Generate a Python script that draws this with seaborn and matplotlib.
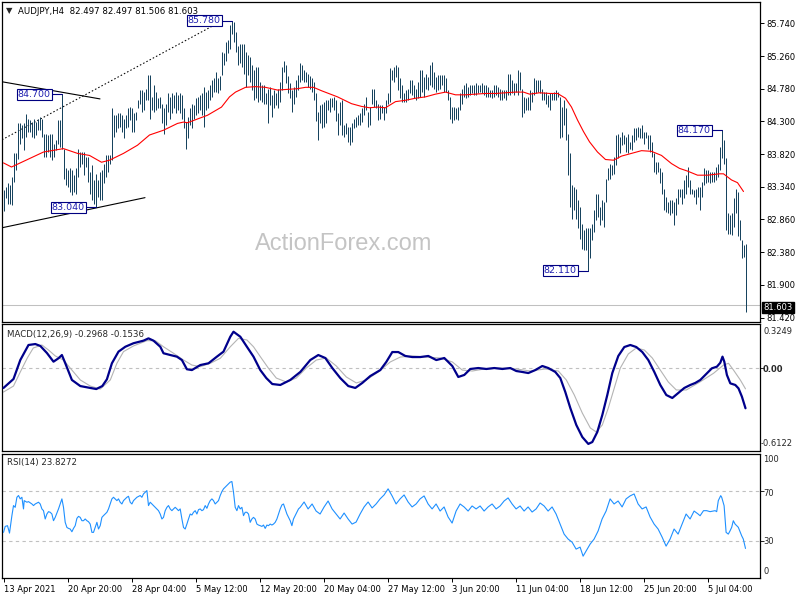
import matplotlib
matplotlib.use("Agg")
import matplotlib.pyplot as plt
import pandas as pd
import seaborn as sns

# ---------------- data ----------------
highs = [83.29, 83.34, 83.39, 83.36, 83.49, 83.83, 83.83, 84.27, 84.27, 84.24,
         84.27, 84.41, 84.34, 84.32, 84.29, 84.34, 84.29, 84.34, 84.37, 84.34,
         84.12, 84.12, 84.10, 84.12, 84.12, 83.97, 84.02, 84.32, 84.32, 84.70,
         83.90, 83.61, 83.58, 83.61, 83.58, 83.51, 83.61, 83.90, 83.85, 83.85,
         83.85, 83.78, 83.78, 83.56, 83.66, 83.44, 83.53, 83.44, 83.56, 83.58,
         83.68, 83.80, 83.80, 83.80, 84.49, 84.39, 84.39, 84.42, 84.42, 84.39,
         84.34, 84.39, 84.49, 84.51, 84.49, 84.42, 84.44, 84.61, 84.76, 84.76,
         84.73, 84.78, 84.98, 84.98, 84.66, 84.83, 84.73, 84.64, 84.66, 84.56,
         84.49, 84.56, 84.71, 84.66, 84.71, 84.69, 84.73, 84.69, 84.71, 84.69,
         84.49, 84.29, 84.37, 84.49, 84.56, 84.54, 84.64, 84.66, 84.69, 84.71,
         84.81, 84.73, 84.76, 84.83, 84.91, 84.93, 85.03, 84.93, 84.96, 85.32,
         85.30, 85.47, 85.49, 85.71, 85.78, 85.76, 85.61, 85.40, 85.44, 85.44,
         85.44, 85.32, 85.27, 85.25, 85.13, 85.05, 85.10, 85.10, 84.88, 84.83,
         84.83, 84.71, 84.78, 84.81, 84.69, 84.76, 84.71, 84.78, 84.88, 85.10,
         85.18, 85.13, 84.96, 84.86, 84.76, 84.81, 84.91, 84.98, 85.15, 85.13,
         85.05, 85.03, 85.00, 84.96, 84.93, 84.88, 84.71, 84.44, 84.54, 84.56,
         84.59, 84.61, 84.61, 84.64, 84.64, 84.66, 84.61, 84.42, 84.59, 84.61,
         84.24, 84.27, 84.22, 84.22, 84.27, 84.34, 84.37, 84.39, 84.42, 84.49,
         84.56, 84.66, 84.44, 84.51, 84.78, 84.78, 84.61, 84.56, 84.54, 84.54,
         84.51, 84.61, 84.71, 85.08, 85.05, 85.10, 85.13, 85.10, 84.93, 84.83,
         84.71, 84.76, 84.78, 84.91, 84.91, 84.83, 84.78, 84.88, 85.05, 85.05,
         84.95, 85.00, 84.95, 85.13, 85.17, 85.03, 84.95, 84.98, 84.98, 84.98,
         84.98, 84.93, 84.76, 84.66, 84.51, 84.51, 84.49, 84.51, 84.71, 84.78,
         84.83, 84.86, 84.81, 84.83, 84.83, 84.83, 84.86, 84.83, 84.83, 84.86,
         84.83, 84.83, 84.81, 84.76, 84.76, 84.83, 84.83, 84.81, 84.78, 84.76,
         84.76, 84.76, 85.00, 85.00, 84.91, 84.86, 84.86, 85.05, 85.03, 84.78,
         84.66, 84.64, 84.66, 84.76, 84.73, 84.93, 84.91, 84.91, 84.91, 84.78,
         84.73, 84.73, 84.69, 84.71, 84.71, 84.73, 84.76, 84.73, 84.66, 84.51,
         84.61, 84.49, 84.12, 83.83, 83.36, 83.34, 83.31, 83.14, 83.05, 82.80,
         82.70, 82.73, 82.73, 82.73, 82.80, 83.00, 83.24, 83.24, 83.05, 83.14,
         83.12, 83.46, 83.61, 83.68, 83.66, 83.78, 84.10, 84.12, 84.07, 84.15,
         84.10, 84.07, 84.12, 84.00, 84.10, 84.20, 84.20, 84.22, 84.20, 84.24,
         84.15, 84.15, 84.10, 84.10, 84.00, 83.83, 83.71, 83.71, 83.61, 83.56,
         83.31, 83.19, 83.12, 83.14, 83.14, 83.12, 83.17, 83.31, 83.31, 83.31,
         83.44, 83.51, 83.63, 83.44, 83.31, 83.29, 83.31, 83.34, 83.34, 83.41,
         83.61, 83.58, 83.58, 83.56, 83.56, 83.56, 83.63, 83.68, 83.93, 84.17,
         84.02, 83.76, 82.95, 82.92, 82.95, 83.17, 83.31, 83.27, 82.85, 82.56,
         82.48, 82.497]

lows = [82.99, 83.17, 83.09, 83.09, 83.07, 83.41, 83.58, 83.75, 83.97, 84.05,
        83.88, 84.07, 84.15, 84.15, 84.07, 84.05, 84.10, 84.17, 84.17, 84.07,
        83.78, 83.78, 83.85, 83.78, 83.73, 83.78, 83.88, 83.97, 83.93, 83.90,
        83.46, 83.36, 83.34, 83.27, 83.22, 83.27, 83.24, 83.49, 83.63, 83.68,
        83.51, 83.63, 83.41, 83.24, 83.14, 83.09, 83.04, 83.19, 83.14, 83.14,
        83.39, 83.49, 83.56, 83.68, 83.73, 84.07, 84.15, 84.20, 84.22, 84.15,
        84.05, 84.20, 84.22, 84.32, 84.15, 84.15, 84.32, 84.49, 84.56, 84.44,
        84.46, 84.61, 84.61, 84.34, 84.46, 84.44, 84.46, 84.49, 84.49, 84.27,
        84.12, 84.24, 84.44, 84.34, 84.42, 84.49, 84.42, 84.46, 84.42, 84.34,
        84.20, 83.90, 84.05, 84.24, 84.20, 84.34, 84.39, 84.42, 84.46, 84.39,
        84.22, 84.46, 84.49, 84.61, 84.66, 84.73, 84.73, 84.71, 84.76, 84.98,
        85.13, 85.18, 85.30, 85.37, 85.59, 85.47, 85.32, 85.13, 85.15, 85.10,
        85.00, 84.81, 84.98, 84.88, 84.76, 84.61, 84.64, 84.59, 84.61, 84.59,
        84.56, 84.56, 84.27, 84.54, 84.37, 84.49, 84.54, 84.49, 84.59, 84.76,
        85.03, 84.86, 84.71, 84.64, 84.44, 84.56, 84.66, 84.76, 84.88, 84.91,
        84.88, 84.88, 84.81, 84.78, 84.73, 84.61, 84.30, 84.03, 84.27, 84.20,
        84.22, 84.27, 84.46, 84.44, 84.51, 84.46, 84.30, 84.10, 84.24, 84.10,
        84.07, 84.12, 84.00, 83.95, 84.00, 84.20, 84.22, 84.24, 84.24, 84.29,
        84.39, 84.46, 84.22, 84.24, 84.56, 84.51, 84.49, 84.32, 84.34, 84.42,
        84.32, 84.42, 84.56, 84.59, 84.91, 84.88, 84.95, 84.76, 84.64, 84.59,
        84.59, 84.59, 84.61, 84.71, 84.69, 84.64, 84.61, 84.64, 84.66, 84.73,
        84.66, 84.78, 84.76, 84.83, 84.81, 84.78, 84.73, 84.76, 84.78, 84.83,
        84.73, 84.73, 84.61, 84.34, 84.27, 84.32, 84.34, 84.32, 84.46, 84.56,
        84.66, 84.64, 84.66, 84.69, 84.71, 84.69, 84.69, 84.71, 84.73, 84.71,
        84.69, 84.66, 84.66, 84.66, 84.64, 84.66, 84.69, 84.66, 84.61, 84.61,
        84.64, 84.61, 84.69, 84.69, 84.71, 84.69, 84.73, 84.69, 84.76, 84.37,
        84.42, 84.46, 84.46, 84.46, 84.59, 84.69, 84.71, 84.73, 84.71, 84.61,
        84.61, 84.56, 84.51, 84.46, 84.61, 84.61, 84.61, 84.66, 84.05, 84.07,
        84.24, 84.02, 83.51, 83.05, 82.87, 83.00, 82.87, 82.73, 82.58, 82.43,
        82.41, 82.41, 82.11, 82.29, 82.56, 82.68, 82.85, 82.90, 82.78, 82.85,
        82.75, 83.12, 83.44, 83.46, 83.51, 83.53, 83.66, 83.76, 83.83, 83.95,
        83.97, 83.85, 83.83, 83.90, 83.88, 84.00, 84.02, 84.07, 84.05, 84.05,
        83.97, 84.05, 83.90, 83.85, 83.78, 83.56, 83.53, 83.56, 83.39, 83.24,
        83.00, 82.97, 82.95, 82.92, 82.95, 82.78, 82.92, 83.09, 83.19, 83.09,
        83.17, 83.24, 83.34, 83.24, 83.24, 83.19, 83.09, 83.19, 83.00, 83.19,
        83.36, 83.39, 83.41, 83.39, 83.41, 83.41, 83.44, 83.49, 83.58, 83.76,
        83.68, 82.70, 82.65, 82.65, 82.63, 82.75, 82.95, 82.61, 82.56, 82.29,
        82.31, 81.506]

ma_idx = [0, 4, 20, 30, 37, 43, 49, 53, 60, 67, 73, 80, 87, 90, 92, 102, 109,
          113, 116, 121, 126, 131, 137, 142, 147, 151, 155, 159, 167, 174, 179,
          183, 187, 191, 196, 201, 206, 211, 216, 221, 226, 231, 236, 241, 246,
          251, 256, 260, 263, 268, 273, 277, 281, 284, 287, 290, 293, 297, 301,
          305, 309, 314, 319, 324, 329, 334, 338, 342, 347, 352, 358, 360, 364,
          367, 370]
ma_val = [83.69, 83.63, 83.85, 83.90, 83.83, 83.80, 83.70, 83.73, 83.83, 83.95,
          84.10, 84.17, 84.27, 84.29, 84.28, 84.39, 84.51, 84.66, 84.73, 84.80,
          84.81, 84.80, 84.76, 84.77, 84.78, 84.80, 84.80, 84.75, 84.66, 84.56,
          84.52, 84.50, 84.51, 84.50, 84.59, 84.61, 84.64, 84.66, 84.70, 84.73,
          84.69, 84.69, 84.70, 84.71, 84.71, 84.72, 84.73, 84.73, 84.70, 84.72,
          84.71, 84.71, 84.64, 84.51, 84.32, 84.15, 84.00, 83.85, 83.74, 83.73,
          83.79, 83.83, 83.87, 83.86, 83.80, 83.68, 83.61, 83.57, 83.51, 83.51,
          83.53, 83.53, 83.44, 83.40, 83.27]

macd_idx = [0, 5, 8.4, 12.5, 15.9, 18.4, 21.7, 25, 27.5, 29.2, 30.9, 34.2, 38.4,
            43.4, 46.4, 49.4, 51.7, 54.2, 57.5, 60.9, 65, 70, 72.5, 75, 78.4, 80,
            83.4, 86.7, 89.2, 91.7, 94.2, 98.4, 102.5, 106.7, 110, 113.4, 115,
            118.4, 121.7, 125, 128.4, 131.4, 134.4, 138.4, 143.4, 148.4, 153.4,
            157.4, 160.9, 164.4, 168.4, 172.4, 175.9, 179.4, 183.4, 188.4, 191.4,
            194.4, 197.4, 200.9, 204.4, 208.4, 212.4, 216.4, 220.4, 224.4, 227.4,
            230.4, 233.4, 237.4, 241.4, 245.4, 249.4, 253.4, 256.4, 259.4, 262.4,
            265.9, 269.4, 272.4, 275.9, 278.4, 280.9, 283.4, 286.4, 289.4, 292.4,
            294.4, 296.9, 299.4, 301.9, 304.4, 307.4, 310.4, 313.4, 316.4, 319.4,
            322.4, 325.4, 328.4, 331.4, 334.4, 337.4, 340.4, 343.4, 345.9, 348.4,
            351.7, 354.2, 356.7, 358.4, 359.5, 360.4, 361.7, 363.4, 365.9, 367.5,
            369.2, 371]
macd_val = [-0.147, -0.081, 0.059, 0.170, 0.177, 0.163, 0.111, 0.047, 0.072,
            0.096, 0.035, -0.088, -0.133, -0.147, -0.155, -0.133, -0.083, 0.035,
            0.121, 0.157, 0.183, 0.202, 0.219, 0.202, 0.157, 0.109, 0.096, 0.084,
            0.059, -0.009, -0.015, 0.022, 0.035, 0.084, 0.121, 0.231, 0.268,
            0.231, 0.157, 0.084, -0.015, -0.074, -0.118, -0.125, -0.088, -0.029,
            0.059, 0.096, 0.074, 0.000, -0.074, -0.133, -0.147, -0.110, -0.059,
            -0.015, 0.045, 0.118, 0.118, 0.089, 0.081, 0.081, 0.089, 0.059, 0.074,
            0.015, -0.066, -0.051, -0.007, 0.000, -0.007, 0.000, -0.007, 0.000,
            -0.022, -0.029, -0.037, -0.015, 0.015, 0.000, -0.029, -0.074, -0.177,
            -0.295, -0.420, -0.509, -0.560, -0.546, -0.472, -0.347, -0.199,
            -0.037, 0.089, 0.155, 0.170, 0.155, 0.118, 0.059, -0.029, -0.125,
            -0.199, -0.221, -0.184, -0.147, -0.125, -0.110, -0.088, -0.039,
            -0.002, 0.010, 0.039, 0.084, 0.047, -0.051, -0.113, -0.125, -0.150,
            -0.211, -0.2968]

signal_idx = [0, 5, 8.4, 11.9, 14.9, 19.2, 22.5, 25.9, 30, 34.2, 38.4, 43.4,
              48.4, 53.4, 56.7, 60, 65, 71.7, 75.9, 80, 85, 90, 94.2, 98.4, 103.4,
              108.4, 113.4, 117.5, 121.7, 125, 128.4, 132.4, 136.4, 141.4, 146.4,
              151.4, 156.4, 161.4, 166.4, 171.4, 176.4, 181.4, 187.4, 193.4, 198.4,
              204.4, 211.4, 218.4, 224.4, 229.4, 234.4, 240.4, 248.4, 256.4, 263.4,
              270.9, 277.4, 281.4, 285.4, 289.4, 293.4, 296.4, 299.4, 302.4, 305.4,
              308.4, 312.4, 316.4, 320.4, 324.4, 328.4, 332.4, 336.4, 341.4, 348.4,
              355, 360, 362.5, 365, 368.4, 371]
signal_val = [-0.177, -0.133, -0.029, 0.074, 0.148, 0.170, 0.133, 0.089, 0.059,
              -0.015, -0.088, -0.133, -0.155, -0.088, 0.035, 0.121, 0.163, 0.202,
              0.202, 0.157, 0.109, 0.059, 0.022, 0.010, 0.035, 0.072, 0.157, 0.219,
              0.207, 0.157, 0.084, 0.000, -0.074, -0.103, -0.074, 0.000, 0.059,
              0.074, 0.015, -0.066, -0.110, -0.088, -0.029, 0.045, 0.081, 0.089,
              0.081, 0.074, 0.045, -0.015, -0.022, -0.007, 0.000, -0.007, -0.022,
              -0.007, -0.022, -0.088, -0.199, -0.332, -0.442, -0.472, -0.420,
              -0.295, -0.147, 0.000, 0.104, 0.148, 0.133, 0.074, -0.015, -0.103,
              -0.162, -0.162, -0.101, -0.039, 0.022, 0.035, -0.015, -0.088, -0.1536]

rsi_idx = [0.0, 0.85, 2.0, 3.0, 4.2, 5.0, 5.85, 6.7, 7.5, 8.35, 9.2, 10.0, 10.35,
           11.7, 12.5, 14.2, 15.0, 15.85, 17.5, 18.35, 19.2, 20.0, 20.85, 21.7,
           22.5, 23.35, 24.2, 25.0, 25.85, 27.5, 28.35, 29.2, 30.0, 30.85, 31.7,
           32.5, 33.35, 34.2, 35.0, 35.85, 36.7, 37.5, 38.35, 39.2, 40.0, 40.85,
           41.7, 42.5, 43.35, 44.2, 45.0, 45.85, 46.7, 47.5, 48.35, 49.2, 50.0,
           51.7, 52.5, 53.35, 54.2, 55.0, 55.85, 56.7, 57.5, 58.35, 59.2, 60.0,
           60.85, 61.7, 62.5, 63.35, 64.2, 65.0, 66.7, 68.35, 69.2, 70.0, 70.85,
           71.7, 72.5, 73.35, 74.2, 75.0, 75.85, 76.7, 77.5, 78.35, 79.2, 80.0,
           80.85, 81.7, 82.5, 83.35, 84.2, 85.0, 85.85, 86.7, 87.5, 88.35, 89.2,
           90.0, 90.85, 91.7, 92.5, 93.35, 94.2, 95.0, 95.85, 96.7, 97.5, 98.35,
           99.2, 100.0, 100.85, 101.7, 102.5, 103.35, 104.2, 105.0, 105.85, 106.7,
           107.5, 108.35, 109.2, 110.0, 111.7, 113.35, 114.2, 115.0, 115.85, 116.7,
           117.5, 118.35, 119.2, 120.0, 120.85, 121.7, 122.5, 123.35, 124.2, 125.0,
           125.85, 126.7, 127.5, 128.35, 129.2, 130.0, 130.85, 131.7, 132.5,
           133.35, 134.2, 135.0, 135.85, 136.7, 137.5, 138.35, 139.2, 140.0,
           140.85, 141.7, 142.5, 143.35, 144.2, 145.0, 145.85, 146.7, 147.5,
           148.35, 150.3, 152.3, 154.3, 156.3, 158.3, 160.3, 162.3, 164.3, 166.3,
           168.3, 170.3, 172.3, 174.3, 176.3, 178.3, 180.3, 182.3, 184.3, 186.3,
           188.3, 190.3, 192.3, 194.3, 196.3, 198.3, 200.3, 202.3, 204.3, 206.3,
           208.3, 210.3, 212.3, 214.3, 216.3, 218.3, 220.3, 222.3, 224.3, 226.3,
           228.3, 230.3, 232.3, 234.3, 236.3, 238.3, 240.3, 242.3, 244.3, 246.3,
           248.3, 250.3, 252.3, 254.3, 256.3, 258.3, 260.3, 262.3, 264.3, 266.3,
           268.3, 270.3, 272.3, 274.3, 276.3, 278.3, 280.3, 282.3, 284.3, 286.3,
           288.3, 289.8, 291.3, 293.3, 295.3, 297.3, 299.3, 301.3, 303.3, 305.3,
           307.3, 309.3, 311.3, 313.3, 315.3, 317.3, 319.3, 321.3, 323.3, 325.3,
           327.3, 329.3, 331.3, 333.3, 335.3, 337.3, 339.3, 341.3, 343.3, 345.3,
           347.3, 348.3, 350.0, 351.6, 353.3, 355.8, 356.6, 357.4, 358.6, 359.1,
           360.3, 361.3, 362.4, 363.3, 364.1, 364.9, 365.8, 367.4, 369.1, 369.9,
           371]
rsi_val = [36.8, 41.6, 42.2, 36.2, 50.3, 58.4, 57.0, 65.1, 66.5, 63.8, 65.1,
           55.7, 62.4, 61.1, 61.6, 59.7, 58.4, 59.7, 61.1, 59.7, 55.7, 54.3, 47.6,
           51.6, 53.5, 53.0, 51.6, 46.2, 48.9, 55.7, 59.7, 63.8, 57.0, 44.9, 40.8,
           40.0, 39.5, 37.3, 40.0, 42.2, 48.1, 49.7, 48.9, 46.2, 46.2, 47.6, 46.2,
           45.4, 43.5, 36.8, 36.8, 40.8, 44.9, 39.5, 42.2, 48.9, 50.3, 53.0, 55.7,
           59.7, 63.8, 65.1, 63.8, 62.4, 63.8, 61.1, 59.7, 62.4, 63.8, 65.1, 65.9,
           61.1, 59.7, 62.4, 65.1, 66.5, 65.1, 67.8, 69.2, 70.5, 58.4, 61.1, 59.7,
           58.4, 57.0, 55.7, 54.3, 51.6, 47.6, 48.9, 54.3, 57.0, 58.4, 55.7, 54.3,
           55.7, 57.0, 55.7, 54.3, 55.7, 47.6, 40.8, 39.5, 43.5, 47.6, 51.6, 50.8,
           53.0, 54.3, 51.6, 55.1, 55.7, 54.3, 55.1, 58.4, 56.2, 59.7, 62.4, 63.8,
           62.4, 59.7, 61.1, 62.4, 66.5, 69.7, 71.9, 74.6, 77.3, 77.8, 69.2, 57.0,
           54.3, 58.4, 55.7, 57.0, 50.3, 53.0, 53.0, 51.6, 44.9, 47.6, 48.9, 47.6,
           43.5, 42.7, 42.2, 41.6, 42.7, 40.0, 42.7, 42.2, 43.5, 42.7, 43.5, 44.9,
           47.6, 51.6, 55.7, 58.9, 59.7, 55.7, 51.6, 48.9, 46.2, 42.2, 47.6, 50.3,
           53.0, 55.7, 57.0, 61.3, 55.7, 59.7, 54.0, 51.6, 57.3, 62.1, 55.7, 51.6,
           47.6, 52.4, 47.6, 43.5, 45.1, 51.6, 57.3, 61.3, 56.5, 59.7, 63.8, 67.0,
           71.9, 66.2, 59.7, 63.8, 67.0, 61.3, 57.3, 59.7, 63.8, 66.2, 59.7, 55.7,
           59.7, 54.0, 57.3, 49.2, 44.3, 54.0, 59.7, 57.3, 54.0, 58.1, 55.7, 58.1,
           54.0, 57.3, 59.7, 55.7, 58.1, 62.1, 64.6, 59.7, 55.7, 58.1, 54.0, 57.3,
           53.2, 55.7, 60.5, 58.1, 54.0, 57.3, 51.6, 43.5, 35.4, 31.4, 28.9, 23.3,
           24.9, 17.6, 21.7, 27.3, 31.4, 37.9, 47.6, 54.0, 63.8, 59.7, 62.1, 57.3,
           63.8, 66.2, 67.8, 59.7, 55.7, 57.3, 49.2, 43.5, 39.5, 33.0, 25.7, 31.4,
           39.5, 35.4, 43.5, 51.6, 47.6, 54.0, 51.6, 50.2, 54.3, 54.3, 53.5, 54.3,
           53.5, 62.4, 66.4, 65.1, 58.3, 36.8, 35.4, 38.1, 40.9, 46.2, 43.5, 40.9,
           34.0, 31.4, 23.83]

price_ticks = [85.740, 85.260, 84.780, 84.300, 83.820, 83.340, 82.860, 82.380,
               81.900, 81.420]
time_tick_idx = [0, 32, 64, 96, 128, 160, 192, 224, 256, 288, 320, 352]
time_tick_labels = ["13 Apr 2021", "20 Apr 20:00", "28 Apr 04:00", "5 May 12:00",
                    "12 May 20:00", "20 May 04:00", "27 May 12:00", "3 Jun 20:00",
                    "11 Jun 04:00", "18 Jun 12:00", "25 Jun 20:00", "5 Jul 04:00"]
last_ohlc = [82.497, 82.497, 81.506, 81.603]
macd_last = [-0.2968, -0.1536]
rsi_last = 23.8272
swing_high_idx = [29, 114, 359]
swing_low_idx = [46, 292]
# hand-drawn chart objects (bar index, price)
line_upper = [[-0.4, 48.25], [84.88, 84.63]]
line_lower = [[-0.4, 70.75], [82.74, 83.18]]
line_dotted = [[-0.75, 107.25], [84.03, 85.744]]

# ---------------- style ----------------
sns.set_theme(style="white")
plt.rcParams["font.family"] = ["DejaVu Sans"]

W, H = 800, 600
fig = plt.figure(figsize=(8, 6), dpi=100)
fig.patch.set_facecolor("white")


def fy(py):
    return 1 - py / H


x0, x1 = 2, 760
xlim = ((x0 - 3.5) / 2, (x1 - 3.5) / 2)
ax1 = fig.add_axes([x0 / W, fy(322), (x1 - x0) / W, 320 / H])
ax2 = fig.add_axes([x0 / W, fy(451), (x1 - x0) / W, 127 / H])
ax3 = fig.add_axes([x0 / W, fy(578), (x1 - x0) / W, 124 / H])

for ax in (ax1, ax2, ax3):
    ax.set_facecolor("white")
    ax.set_xlim(*xlim)
    for s in ax.spines.values():
        s.set_color("black")
        s.set_linewidth(0.9)
    ax.tick_params(axis="x", bottom=False, labelbottom=False)

# ---------------- price panel ----------------
idx = list(range(len(highs)))
ax1.set_ylim(81.354, 86.053)
ax1.axhline(last_ohlc[3], color="#c0c0c0", lw=0.75, zorder=1)
ax1.vlines(idx, lows, highs, color="#17435e", lw=0.72, zorder=3)
ma_df = pd.DataFrame({"idx": ma_idx, "val": ma_val})
sns.lineplot(data=ma_df, x="idx", y="val", ax=ax1, color="#ff0000", lw=0.8,
             sort=False, estimator=None, zorder=4)

ax1.plot(line_upper[0], line_upper[1], color="black", lw=0.8, zorder=2)
ax1.plot(line_lower[0], line_lower[1], color="black", lw=0.8, zorder=2)
ax1.plot(line_dotted[0], line_dotted[1], color="black", lw=0.75,
         ls=(0, (1.5, 2)), zorder=2)

box = dict(boxstyle="square,pad=0.12", fc="white", ec="#000080", lw=0.8)
for i in swing_high_idx + swing_low_idx:
    p = highs[i] if i in swing_high_idx else lows[i]
    ax1.plot([i - 4.9, i], [p, p], color="#000080", lw=0.8, zorder=5)
    ax1.text(i - 5.35, p, f"{p:.3f}", ha="right", va="center", fontsize=6.8,
             color="#2020b0", bbox=box, zorder=6)

ax1.yaxis.tick_right()
ax1.set_yticks(price_ticks)
ax1.set_yticklabels([f"{v:.3f}" for v in price_ticks])
ax1.tick_params(axis="y", right=True, direction="out", length=3, width=0.7,
                labelsize=6, pad=1.5, colors="black")
ax1.set_xlabel("")
ax1.set_ylabel("")

ax1.text(255 / W, fy(250), "ActionForex.com", transform=fig.transFigure,
         fontsize=17, color="#c4c4c4", family="Liberation Sans",
         ha="left", va="baseline", zorder=0)

fig.text(6 / W, fy(11), "\u25bc", fontsize=6, va="center", ha="left")
fig.text(18 / W, fy(11),
         "AUDJPY,H4  " + " ".join(f"{v:.3f}" for v in last_ohlc),
         fontsize=6.2, va="center", ha="left", color="black")
fig.text(763 / W, fy(307.5), f"{last_ohlc[3]:.3f}", fontsize=6, color="white",
         va="center", ha="left",
         bbox=dict(boxstyle="square,pad=0.15", fc="black", ec="black"))

# ---------------- MACD panel ----------------
ax2.set_ylim(-0.6122, 0.3249)
ax2.axhline(0, color="#c0c0c0", lw=0.8, ls=(0, (3, 3)), zorder=1)
sig_df = pd.DataFrame({"idx": signal_idx, "val": signal_val})
macd_df = pd.DataFrame({"idx": macd_idx, "val": macd_val})
sns.lineplot(data=sig_df, x="idx", y="val", ax=ax2, color="#b4b4b4", lw=0.8,
             sort=False, estimator=None, zorder=2)
sns.lineplot(data=macd_df, x="idx", y="val", ax=ax2, color="#00008b", lw=1.6,
             sort=False, estimator=None, zorder=3)
ax2.set_xlabel("")
ax2.set_ylabel("")
ax2.yaxis.tick_right()
ax2.set_yticks([0])
ax2.set_yticklabels([""])
ax2.tick_params(axis="y", right=True, direction="out", length=3, width=0.7)
fig.text(7 / W, fy(334), f"MACD(12,26,9) {macd_last[0]:.4f} {macd_last[1]:.4f}",
         fontsize=6.2, va="center", ha="left")
fig.text(763 / W, fy(332), "0.3249", fontsize=6, va="center", ha="left")
fig.text(763 / W, fy(369), "0.00", fontsize=6, va="center", ha="left",
         fontweight="bold")
fig.text(761 / W, fy(444), "-0.6122", fontsize=6, va="center", ha="left")

# ---------------- RSI panel ----------------
ax3.set_ylim(0, 100)
for lv in (70, 30):
    ax3.axhline(lv, color="#c0c0c0", lw=0.8, ls=(0, (3, 3)), zorder=1)
rsi_df = pd.DataFrame({"idx": rsi_idx, "val": rsi_val})
sns.lineplot(data=rsi_df, x="idx", y="val", ax=ax3, color="#1e90ff", lw=0.8,
             sort=False, estimator=None, zorder=3)
ax3.set_xlabel("")
ax3.set_ylabel("")
ax3.yaxis.tick_right()
ax3.set_yticks([70, 30])
ax3.set_yticklabels(["", ""])
ax3.tick_params(axis="y", right=True, direction="out", length=3, width=0.7)
fig.text(7 / W, fy(462.7), f"RSI(14) {rsi_last:.4f}", fontsize=6.2,
         va="center", ha="left")
for lab, py in (("100", 460), ("70", 493), ("30", 541), ("0", 572)):
    fig.text(763 / W, fy(py), lab, fontsize=6, va="center", ha="left")

ax3.set_xticks(time_tick_idx)
ax3.set_xticklabels(time_tick_labels)
ax3.tick_params(axis="x", bottom=True, labelbottom=True, direction="out",
                length=3, width=0.7, labelsize=6, pad=2, colors="black")
for lbl in ax3.get_xticklabels():
    lbl.set_ha("left")

fig.savefig("out.png", dpi=100, facecolor="white")
